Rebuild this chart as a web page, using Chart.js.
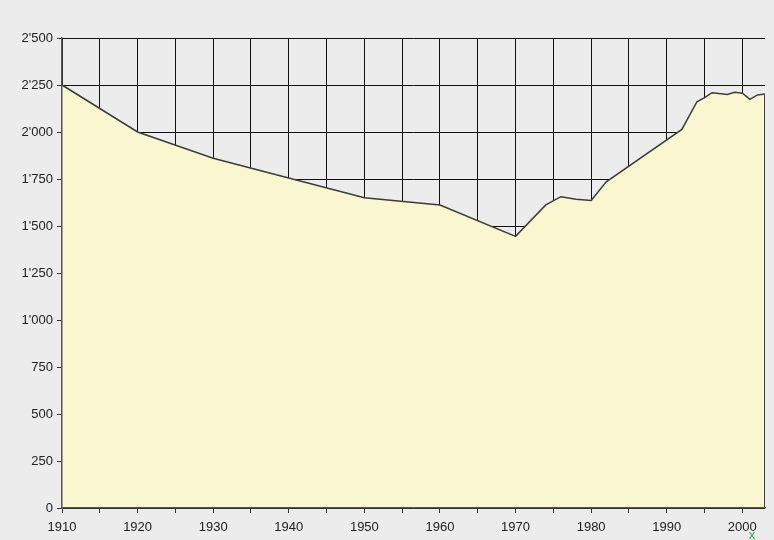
<!DOCTYPE html>
<html>
<head>
<meta charset="utf-8">
<script src="https://cdn.jsdelivr.net/npm/chart.js@4/dist/chart.umd.min.js"></script>
<style>
  html, body { margin: 0; padding: 0; background: #ececec; }
  #wrap { position: relative; width: 774px; height: 540px; }
</style>
</head>
<body>
<div id="wrap"><canvas id="popChart" width="774" height="540"></canvas></div>
<script>
// population by year
const years = [1910, 1920, 1930, 1941, 1950, 1960, 1970, 1974, 1976, 1978, 1980, 1982, 1992, 1994, 1995, 1996, 1998, 1999, 2000, 2001, 2002, 2003]
const population = [2250, 2000, 1860, 1745, 1650, 1612, 1445, 1612, 1656, 1642, 1636, 1735, 2014, 2161, 2183, 2209, 2200, 2211, 2206, 2174, 2197, 2202]

const xTicks = [1910, 1915, 1920, 1925, 1930, 1935, 1940, 1945, 1950, 1955, 1960, 1965, 1970, 1975, 1980, 1985, 1990, 1995, 2000]
const yTicks = [0, 250, 500, 750, 1000, 1250, 1500, 1750, 2000, 2250, 2500]

function swissFormat(v) {
    return String(v).replace(/\B(?=(\d{3})+(?!\d))/g, "'")
}

// closes the fill on the right side with a dark edge
const rightEdge = {
    id: "rightEdge",
    afterDatasetsDraw(chart) {
        const x = chart.scales.x, y = chart.scales.y
        const last = years.length - 1
        const px = x.getPixelForValue(years[last])
        const ctx = chart.ctx
        ctx.save()
        ctx.strokeStyle = "#444"
        ctx.lineWidth = 1
        ctx.beginPath()
        ctx.moveTo(Math.round(px) - 0.5, y.getPixelForValue(population[last]))
        ctx.lineTo(Math.round(px) - 0.5, y.getPixelForValue(0))
        ctx.stroke()
        ctx.restore()
    },
    afterDraw(chart) {
        const ctx = chart.ctx
        ctx.save()
        ctx.fillStyle = "#3aa53a"
        ctx.font = "13px 'Liberation Sans', Arial, sans-serif"
        ctx.textAlign = "center"
        ctx.textBaseline = "bottom"
        ctx.fillText("x", 752, 542)
        ctx.restore()
    }
}

const tickFont = { family: "'Liberation Sans', Arial, sans-serif", size: 13 }

new Chart(document.getElementById("popChart"), {
    type: "line",
    data: {
        datasets: [{
            data: years.map((yr, i) => ({ x: yr, y: population[i] })),
            borderColor: "#3c3c3c",
            borderWidth: 1.5,
            backgroundColor: "#faf6cf",
            fill: "origin",
            pointRadius: 0,
            tension: 0
        }]
    },
    options: {
        responsive: false,
        animation: false,
        layout: { padding: { left: 0, right: 9, top: 38, bottom: 0 } },
        plugins: { legend: { display: false }, tooltip: { enabled: false } },
        scales: {
            x: {
                type: "linear",
                min: 1910,
                max: 2003,
                afterBuildTicks: s => { s.ticks = xTicks.map(v => ({ value: v })) },
                afterFit: s => { s.height = 32 },
                ticks: {
                    autoSkip: false,
                    maxRotation: 0,
                    padding: 7,
                    color: "#222",
                    font: tickFont,
                    callback: v => (v % 10 == 0 ? String(v) : "")
                },
                grid: { color: "#111", lineWidth: 1, tickLength: 5, tickColor: "#333" },
                border: { color: "#555", width: 1.5, z: 1 }
            },
            y: {
                min: 0,
                max: 2500,
                afterBuildTicks: s => { s.ticks = yTicks.map(v => ({ value: v })) },
                afterFit: s => { s.width = 62 },
                ticks: {
                    padding: 4,
                    color: "#222",
                    font: tickFont,
                    callback: v => swissFormat(v)
                },
                grid: { color: "#111", lineWidth: 1, tickLength: 5, tickColor: "#333" },
                border: { color: "#555", width: 1.5, z: 1 }
            }
        }
    },
    plugins: [rightEdge]
})
</script>
</body>
</html>
